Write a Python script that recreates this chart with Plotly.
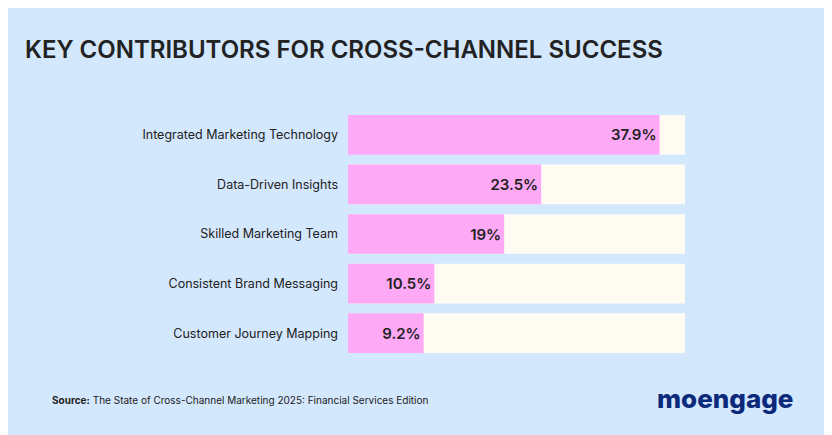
import plotly.graph_objects as go

# ── data ──────────────────────────────
categories = ["Integrated Marketing Technology", "Data-Driven Insights",
              "Skilled Marketing Team", "Consistent Brand Messaging",
              "Customer Journey Mapping"]
values = [37.9, 23.5, 19, 10.5, 9.2]
labels = ["37.9%", "23.5%", "19%", "10.5%", "9.2%"]
track_max = 41

BG = "#d3e7fd"
PINK = "#fda9f5"
TRACK = "#fefbf3"
INK = "#222222"

# page is drawn with an 8px body offset, so layout is shifted to compensate
L, R, T, B = 340, 155, 102, 85
PW = 832 - L - R

fig = go.Figure()
fig.add_bar(y=categories, x=[track_max] * len(categories), orientation="h",
            marker=dict(color=TRACK, line_width=0), hoverinfo="skip", width=0.8)
fig.add_bar(y=categories, x=values, orientation="h", text=labels,
            textposition="inside", insidetextanchor="end",
            textfont=dict(family="Inter", size=15, color=INK, weight=600),
            marker=dict(color=PINK, line_width=0), width=0.8)

fig.update_layout(
    width=832, height=435, barmode="overlay", showlegend=False,
    paper_bgcolor=BG, plot_bgcolor=BG,
    margin=dict(l=L, r=R, t=T, b=B),
    font=dict(family="Inter", color=INK),
    title=dict(text="KEY CONTRIBUTORS FOR CROSS-CHANNEL SUCCESS",
               x=17 / 832, xref="container", xanchor="left",
               y=1 - 42 / 435, yref="container", yanchor="middle",
               font=dict(size=24, color=INK, weight=600)),
    xaxis=dict(range=[0, track_max], visible=False, fixedrange=True),
    yaxis=dict(autorange="reversed", ticksuffix=" ", ticklen=3, ticks="outside",
               tickcolor=BG, showgrid=False,
               tickfont=dict(size=12.5, color=INK)),
)
fig.add_annotation(text="<b>Source:</b> The State of Cross-Channel Marketing 2025: Financial Services Edition",
                   xref="paper", yref="paper", x=(42 - L) / PW, y=-(392 - (435 - B)) / (435 - T - B),
                   xanchor="left", yanchor="middle", showarrow=False,
                   font=dict(size=10, color=INK))
fig.add_annotation(text="moengage", xref="paper", yref="paper",
                   x=(788 - L) / PW, y=-(390 - (435 - B)) / (435 - T - B),
                   xanchor="right", yanchor="middle",
                   showarrow=False, font=dict(size=26, color="#0c2a7a", weight=800))

fig.write_html("out.html")
